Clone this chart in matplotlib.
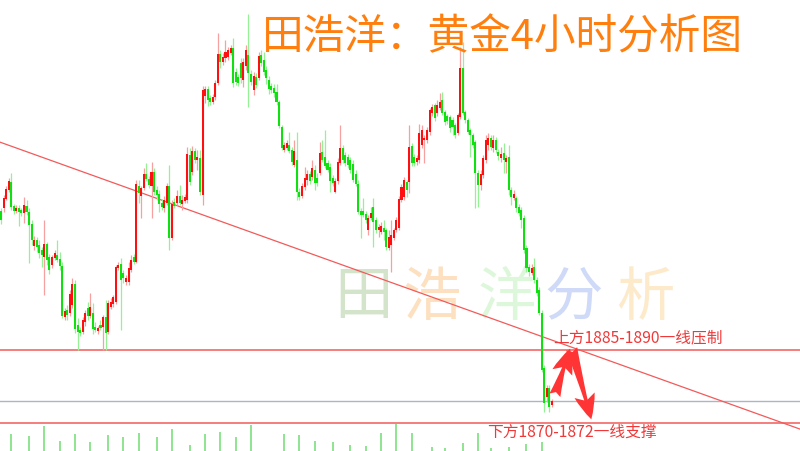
import matplotlib
matplotlib.use('Agg')
import matplotlib.pyplot as plt
from matplotlib.patches import FancyArrowPatch
import numpy as np

# ---------------- data (gold, 4h candles) ----------------
opens = [1914.8, 1915.4, 1917.2, 1919.0, 1920.6, 1915.8, 1914.8, 1915.4, 1915.0, 1914.4,
         1915.8, 1914.6, 1912.2, 1907.8, 1909.0, 1908.0, 1907.0, 1905.6, 1908.2, 1905.6,
         1904.0, 1905.4, 1906.0, 1905.2, 1903.8, 1893.6, 1895.0, 1894.4, 1896.0, 1900.2,
         1892.0, 1891.0, 1890.6, 1892.6, 1895.4, 1893.8, 1894.4, 1891.6, 1890.8, 1892.0,
         1891.6, 1893.6, 1890.6, 1895.6, 1896.2, 1896.6, 1903.4, 1904.2, 1902.4, 1900.6,
         1900.6, 1903.0, 1905.6, 1904.6, 1919.8, 1917.8, 1919.4, 1922.2, 1921.2, 1919.8,
         1922.6, 1919.0, 1918.2, 1916.4, 1915.4, 1916.4, 1919.8, 1909.4, 1916.6,
         1916.4, 1917.8, 1916.2, 1916.8, 1917.0, 1926.0, 1922.6, 1926.8, 1925.0, 1925.4,
         1918.0, 1937.8, 1939.2, 1937.4, 1936.6, 1937.6, 1940.4, 1946.2, 1944.6, 1945.4,
         1945.6, 1946.4, 1947.4, 1942.6, 1941.6, 1944.4, 1941.0, 1943.8, 1946.0, 1942.2,
         1939.0, 1941.6, 1941.4, 1946.0, 1945.0, 1943.0, 1941.0, 1939.8, 1939.4, 1938.6,
         1936.6, 1931.6, 1927.0, 1927.4, 1928.0, 1927.0, 1924.0, 1925.0, 1918.6, 1917.8,
         1919.6, 1921.0, 1922.2, 1921.6, 1923.0, 1921.4, 1922.4, 1926.6, 1925.6, 1924.4,
         1923.6, 1921.4, 1918.6, 1920.8, 1924.4, 1927.4, 1926.0, 1925.6, 1925.0,
         1924.2, 1922.2, 1920.2, 1914.8, 1914.8, 1914.2, 1911.0, 1913.4, 1915.6,
         1913.0, 1911.0, 1910.6, 1911.4, 1911.0, 1907.4, 1908.0, 1909.4, 1911.0, 1911.4,
         1917.0, 1917.6, 1920.6, 1920.6, 1927.8, 1925.6, 1924.6, 1925.0, 1928.0, 1929.0,
         1929.0, 1930.6, 1934.4, 1936.0, 1934.4, 1935.4, 1937.0, 1934.6, 1933.8, 1933.6,
         1933.0, 1932.0, 1930.4, 1933.6, 1943.4, 1934.6, 1933.0, 1931.0, 1930.0, 1928.6,
         1922.4, 1920.0, 1922.0, 1925.0, 1928.0, 1929.4, 1927.4, 1929.0,
         1926.6, 1925.4, 1926.4, 1924.6, 1925.6, 1919.0, 1917.4, 1917.4, 1915.6, 1915.0,
         1913.4, 1907.4, 1903.6, 1902.4, 1903.6, 1901.0, 1899.0, 1894.4, 1883.4, 1877.6,
         1879.4, 1876.0]
highs = [1915.4, 1918.0, 1919.8, 1921.4, 1922.4, 1916.2, 1916.0, 1916.0, 1915.4, 1917.6,
         1917.0, 1915.4, 1913.0, 1909.8, 1909.6, 1909.0, 1907.6, 1913.0, 1908.6, 1906.2,
         1906.0, 1907.0, 1909.0, 1906.6, 1904.6, 1895.4, 1896.0, 1899.0, 1901.4, 1901.0,
         1893.4, 1891.6, 1893.6, 1895.0, 1896.6, 1898.4, 1896.4, 1892.6, 1891.8, 1893.0,
         1894.0, 1897.0, 1897.0, 1897.4, 1898.0, 1904.0, 1904.6, 1905.4, 1903.0, 1902.0,
         1904.6, 1906.0, 1906.2, 1921.0, 1921.0, 1919.8, 1923.4, 1924.4, 1921.8, 1924.6,
         1923.4, 1919.8, 1919.0, 1917.2, 1917.8, 1920.4, 1924.0, 1917.0, 1917.4,
         1919.0, 1920.0, 1918.0, 1918.2, 1927.6, 1927.4, 1927.8, 1927.4, 1927.0, 1927.0,
         1939.8, 1939.8, 1939.8, 1938.0, 1938.2, 1941.0, 1950.4, 1947.0, 1946.4, 1949.0,
         1947.6, 1948.0, 1949.4, 1943.4, 1942.2, 1945.4, 1945.4, 1948.0, 1954.2, 1943.0,
         1942.6, 1942.4, 1946.6, 1947.0, 1946.6, 1943.8, 1941.8, 1940.4, 1940.2, 1940.2,
         1937.0, 1932.0, 1928.6, 1929.0, 1930.6, 1927.6, 1929.0, 1930.6, 1919.4, 1920.4,
         1923.6, 1923.0, 1922.8, 1925.0, 1924.0, 1922.4, 1928.6, 1929.0, 1931.0, 1925.0,
         1924.4, 1922.0, 1921.4, 1925.4, 1932.0, 1928.0, 1926.6, 1926.2, 1925.6,
         1925.0, 1923.0, 1921.0, 1915.4, 1917.4, 1914.8, 1914.0, 1915.6, 1917.4,
         1913.6, 1912.2, 1912.6, 1913.0, 1911.4, 1911.0, 1913.0, 1911.4, 1913.6, 1917.8,
         1920.2, 1921.6, 1921.0, 1932.0, 1928.4, 1926.2, 1926.0, 1932.2, 1932.0, 1930.0,
         1931.6, 1935.4, 1936.2, 1936.4, 1937.0, 1938.4, 1938.6, 1935.0, 1934.2, 1934.0,
         1933.6, 1932.4, 1934.4, 1947.6, 1948.6, 1935.0, 1933.4, 1931.4, 1930.4, 1929.0,
         1923.0, 1923.0, 1926.0, 1930.0, 1930.4, 1930.0, 1930.0, 1929.6,
         1927.2, 1927.6, 1928.4, 1926.0, 1928.0, 1919.6, 1919.0, 1917.8, 1916.2, 1915.6,
         1914.0, 1908.0, 1904.2, 1904.2, 1905.4, 1901.6, 1899.6, 1895.0, 1884.0, 1880.0,
         1880.0, 1877.2]
lows = [1912.2, 1914.6, 1917.0, 1918.6, 1915.0, 1914.2, 1914.4, 1911.8, 1913.8, 1912.4,
        1914.0, 1904.4, 1908.0, 1907.0, 1906.6, 1905.4, 1903.6, 1898.0, 1904.0, 1902.2,
        1903.4, 1905.0, 1904.6, 1903.0, 1893.4, 1893.0, 1893.0, 1893.8, 1895.4, 1890.4,
        1887.0, 1889.8, 1890.2, 1891.8, 1893.0, 1893.4, 1890.2, 1890.6, 1890.2, 1891.0,
        1887.0, 1887.0, 1890.2, 1895.2, 1895.6, 1896.2, 1903.0, 1891.0, 1900.4, 1900.0,
        1900.0, 1902.6, 1904.2, 1904.4, 1916.4, 1913.4, 1919.0, 1920.8, 1919.4, 1913.4,
        1918.0, 1917.0, 1914.6, 1915.0, 1914.6, 1916.0, 1907.0, 1909.0, 1915.4,
        1916.0, 1916.0, 1915.0, 1916.4, 1916.4, 1920.0, 1922.0, 1924.4, 1923.0, 1918.0,
        1916.0, 1936.4, 1935.8, 1936.0, 1936.2, 1937.0, 1940.0, 1943.4, 1944.0, 1944.6,
        1945.0, 1946.0, 1939.6, 1940.0, 1939.8, 1940.4, 1939.6, 1943.0, 1935.6, 1940.0,
        1938.0, 1939.4, 1941.0, 1943.8, 1942.0, 1940.2, 1938.2, 1938.4, 1937.6, 1936.0,
        1931.4, 1927.0, 1926.6, 1927.0, 1926.4, 1924.0, 1923.6, 1917.0, 1917.0, 1917.4,
        1919.0, 1920.0, 1920.2, 1921.0, 1919.0, 1919.8, 1922.0, 1924.6, 1923.4, 1922.6,
        1918.6, 1919.8, 1918.4, 1920.2, 1924.0, 1924.4, 1923.8, 1923.4, 1922.4,
        1920.6, 1919.8, 1914.2, 1909.4, 1913.6, 1912.4, 1910.0, 1913.0, 1907.6,
        1910.4, 1909.6, 1910.2, 1909.0, 1907.0, 1907.0, 1902.6, 1909.0, 1910.6, 1911.0,
        1916.6, 1917.0, 1917.6, 1918.4, 1923.8, 1923.8, 1924.0, 1924.4, 1927.4, 1924.4,
        1928.4, 1930.0, 1933.8, 1932.8, 1933.8, 1935.0, 1934.0, 1932.0, 1932.2, 1930.6,
        1930.0, 1929.4, 1930.0, 1933.2, 1934.0, 1932.4, 1930.2, 1925.6, 1927.4, 1915.4,
        1915.6, 1919.0, 1921.4, 1924.4, 1927.0, 1927.0, 1926.6, 1926.4,
        1925.0, 1924.6, 1922.4, 1922.4, 1918.0, 1916.0, 1917.0, 1914.6, 1913.8, 1911.4,
        1906.4, 1902.6, 1901.8, 1902.0, 1900.4, 1897.8, 1894.0, 1882.6, 1874.6, 1876.6,
        1874.6, 1875.6]
closes = [1913.0, 1917.4, 1919.2, 1920.8, 1915.6, 1914.8, 1915.4, 1914.6, 1914.4, 1916.0,
          1914.6, 1912.0, 1909.0, 1909.0, 1907.6, 1906.4, 1906.0, 1908.2, 1905.0, 1903.0,
          1905.6, 1906.4, 1905.0, 1903.8, 1893.8, 1894.8, 1894.0, 1898.2, 1900.2, 1891.2,
          1890.6, 1890.4, 1893.0, 1894.4, 1893.8, 1895.6, 1891.2, 1891.0, 1891.4, 1891.4,
          1893.6, 1890.4, 1896.4, 1896.6, 1897.6, 1903.6, 1904.0, 1901.0, 1901.4, 1901.4,
          1903.4, 1905.0, 1904.6, 1920.2, 1918.4, 1919.4, 1922.2, 1921.2, 1920.0, 1922.6,
          1918.6, 1918.0, 1916.2, 1915.6, 1917.0, 1919.8, 1909.4, 1916.2, 1915.8,
          1917.8, 1916.4, 1917.0, 1917.6, 1926.2, 1920.6, 1926.8, 1925.0, 1925.6, 1918.6,
          1939.0, 1939.2, 1937.0, 1936.6, 1937.6, 1940.4, 1946.2, 1944.6, 1945.6, 1946.6,
          1947.0, 1947.4, 1940.4, 1940.6, 1940.4, 1941.4, 1944.6, 1947.0, 1942.4, 1940.6,
          1941.8, 1940.0, 1945.8, 1944.4, 1942.6, 1941.4, 1939.2, 1939.0, 1938.4, 1936.6,
          1931.8, 1927.4, 1928.0, 1928.4, 1926.8, 1924.6, 1926.8, 1918.6, 1917.6, 1919.8,
          1921.4, 1922.2, 1920.8, 1923.4, 1920.4, 1920.4, 1926.4, 1925.0, 1923.8, 1923.0,
          1920.8, 1920.4, 1920.8, 1924.6, 1927.4, 1925.0, 1924.4, 1924.0, 1923.0,
          1921.0, 1920.2, 1914.6, 1914.0, 1914.0, 1913.0, 1913.4, 1914.4, 1912.6,
          1911.0, 1911.6, 1911.8, 1910.6, 1907.6, 1909.6, 1910.0, 1911.0, 1913.0, 1917.2,
          1919.6, 1921.0, 1919.0, 1927.6, 1924.4, 1924.4, 1925.4, 1930.4, 1931.0, 1929.4,
          1931.0, 1935.0, 1935.6, 1933.4, 1936.0, 1936.6, 1934.4, 1932.6, 1932.8, 1931.4,
          1931.6, 1930.0, 1934.0, 1943.4, 1934.4, 1933.0, 1930.6, 1930.0, 1928.0, 1922.4,
          1920.0, 1922.2, 1925.4, 1929.0, 1929.4, 1927.6, 1929.0, 1927.0,
          1925.8, 1926.2, 1925.0, 1925.4, 1919.0, 1917.6, 1918.2, 1915.4, 1914.4, 1913.0,
          1907.0, 1903.4, 1902.6, 1903.4, 1901.0, 1898.4, 1894.4, 1883.0, 1876.4, 1879.4,
          1875.6, 1876.8]

# bottom sub-panel bars (candle index, height)
vol_idx = [4, 11, 17, 23, 29, 35, 42, 48, 54, 61, 67, 74, 80, 86, 92, 98, 111, 117, 123,
           130, 137, 143, 149, 155, 161, 169, 174, 181, 187, 192, 199, 206, 212]
vol_vals = [17, 15, 25, 10, 17, 9, 16, 14, 18, 14, 22, 6, 17, 19, 14, 26, 17, 16, 10,
            9, 6, 5, 18, 27, 18, 4, 3, 8, 18, 3, 4, 7, 9]

resistance = 1887.0
support = 1872.4
last_price = 1876.8
trend_anchor = (0, 1928.5)
trend_slope = -0.183

title = '田浩洋：黄金4小时分析图'
label_up = '上方1885-1890一线压制'
label_down = '下方1870-1872一线支撑'
wm_chars = ['田', '浩', '洋', '分', '析']
wm_colors = ['#d3e4cb', '#fde0c0', '#ddf7da', '#cfdaf8', '#fdeaca']

plt.rcParams['font.family'] = ['Noto Sans CJK SC', 'DejaVu Sans']

W, H = 800, 451
fig = plt.figure(figsize=(W / 100, H / 100), dpi=100)
fig.patch.set_facecolor('white')
ax = fig.add_axes([0, 0, 1, 1])
n = len(closes)
s = 551.0 / (n - 1)          # pixels per candle
ax.set_xlim(-1 / s, 799 / s)
ax.set_ylim(1866.8, 1957.0)
ax.axis('off')

idx = np.arange(n)
o = np.array(opens); c = np.array(closes); h = np.array(highs); l = np.array(lows)
up = c >= o
dn = ~up

# watermark
wm_x = [363, 432, 507, 574, 645]
for ch, col, xp in zip(wm_chars, wm_colors, wm_x):
    ax.text(xp / W, 1 - 298 / H, ch, transform=fig.transFigure, fontsize=42,
            color=col, ha='center', va='center', zorder=1)

# reference lines
ax.axhline(resistance, color='#f25a5a', lw=1.1, zorder=2)
ax.axhline(last_price, color='#a9b7c3', lw=1.0, zorder=2)
ax.axhline(support, color='#f25a5a', lw=1.1, zorder=2)
ax.axline(trend_anchor, slope=trend_slope, color='#f25a5a', lw=0.9, zorder=2)

# candles
ax.vlines(idx[up], l[up], h[up], color='#f7a0a0', lw=0.9, zorder=3)
ax.vlines(idx[dn], l[dn], h[dn], color='#96f096', lw=0.9, zorder=3)
bb = np.minimum(o, c)
bh = np.maximum(np.abs(c - o), 0.25)
ax.bar(idx[up], bh[up], bottom=bb[up], width=0.8, color='#ff1010', lw=0, zorder=4)
ax.bar(idx[dn], bh[dn], bottom=bb[dn], width=0.8, color='#10e010', lw=0, zorder=4)

# arrows: from last price up to resistance, then down to support
p_last = (216.8, 1877.4)
p_top = (223.4, 1887.8)
p_bot = (231.7, 1872.6)
style = 'fancy,head_length=1.2,head_width=1.0,tail_width=0.55'
for a, b in [(p_last, p_top), (p_top, p_bot)]:
    ax.add_patch(FancyArrowPatch(a, b, arrowstyle=style, mutation_scale=15,
                                 color='#ff3535', lw=0, zorder=7))

ax.text(216.4, 1889.4, label_up, color='#f03838', fontsize=11.3, ha='left',
        va='center', zorder=8)
ax.text(190.5, 1870.5, label_down, color='#f03838', fontsize=11.3, ha='left',
        va='center', zorder=8)

# title
ax.text(502 / W, 1 - 38 / H, title, transform=fig.transFigure, fontsize=30,
        color='#ff7f0e', fontweight='medium', ha='center', va='center', zorder=9)

# bottom sub-panel
vax = fig.add_axes([0, 0, 1, 27 / H])
vax.set_xlim(-1 / s, 799 / s)
vax.set_ylim(0, 27)
vax.axis('off')
vax.vlines(vol_idx, 0, vol_vals, color='#86e286', lw=1.3)

fig.savefig('out.png', dpi=100, facecolor='white')
